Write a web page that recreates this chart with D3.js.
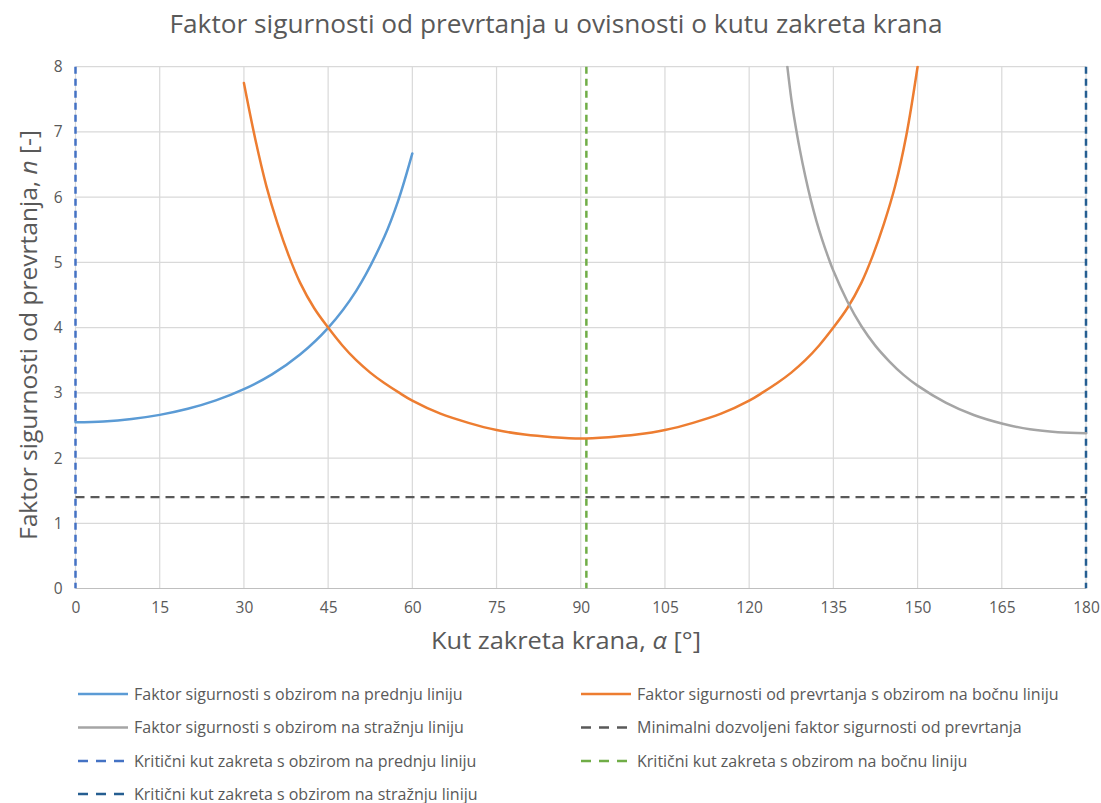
<!DOCTYPE html>
<html>
<head>
<meta charset="utf-8">
<script src="https://cdn.jsdelivr.net/npm/d3@7"></script>
<style>
  html, body { margin: 0; padding: 0; background: #ffffff; }
  svg { display: block; }
  text { font-family: "Open Sans", "Noto Sans", sans-serif; fill: #595959; }
</style>
</head>
<body>
<svg id="chart" width="1101" height="803"></svg>
<script>
// Safety factor against overturning vs. crane slewing angle
const titleText = "Faktor sigurnosti od prevrtanja u ovisnosti o kutu zakreta krana";
const xTicks = [0, 15, 30, 45, 60, 75, 90, 105, 120, 135, 150, 165, 180];
const yTicks = [0, 1, 2, 3, 4, 5, 6, 7, 8];

// front tipping line
const frontAngle = [0, 5, 10, 15, 20, 25, 30, 35, 40, 45, 50, 55, 57.5, 60];
const frontN     = [2.55, 2.562, 2.599, 2.662, 2.755, 2.884, 3.056, 3.283, 3.587, 3.996, 4.564, 5.389, 5.95, 6.67];

// side tipping line
const sideAngle = [30, 32, 34, 36, 38, 40, 42.5, 45, 47.5, 50, 52.5, 55, 57.5, 60, 65, 70, 75, 80, 85, 90,
                   95, 100, 105, 110, 115, 120, 122.5, 125, 127.5, 130, 132.5, 135, 137.5, 140, 142, 144, 146, 148, 150];
const sideN     = [7.75, 6.90, 6.17, 5.59, 5.10, 4.69, 4.30, 4.00, 3.73, 3.50, 3.31, 3.15, 3.01, 2.88, 2.68, 2.54, 2.43, 2.36, 2.32, 2.30,
                   2.32, 2.36, 2.43, 2.54, 2.68, 2.88, 3.01, 3.15, 3.31, 3.50, 3.73, 4.00, 4.30, 4.69, 5.10, 5.59, 6.17, 6.95, 8.00];

// rear tipping line
const rearAngle = [126.8, 127.5, 128, 129, 130, 131, 132, 133, 134, 135, 137.5, 140, 142.5, 145, 147.5, 150, 155, 160, 165, 170, 175, 180];
const rearN     = [8.00, 7.51, 7.23, 6.74, 6.32, 5.95, 5.63, 5.35, 5.10, 4.87, 4.40, 4.02, 3.72, 3.48, 3.275, 3.11, 2.85, 2.66, 2.53, 2.44, 2.395, 2.38];

// reference lines
const minN = 1.4;            // minimum allowed safety factor
const critFront = 0;         // critical angle, front line
const critSide = 91;         // critical angle, side line
const critRear = 180;        // critical angle, rear line

const legendLabels = [
  "Faktor sigurnosti s obzirom na prednju liniju",
  "Faktor sigurnosti od prevrtanja s obzirom na bočnu liniju",
  "Faktor sigurnosti s obzirom na stražnju liniju",
  "Minimalni dozvoljeni faktor sigurnosti od prevrtanja",
  "Kritični kut zakreta s obzirom na prednju liniju",
  "Kritični kut zakreta s obzirom na bočnu liniju",
  "Kritični kut zakreta s obzirom na stražnju liniju"
];

const colors = {
  front: "#5B9BD5", side: "#ED7D31", rear: "#A5A5A5", minLine: "#595959",
  critFront: "#4472C4", critSide: "#70AD47", critRear: "#255E91"
};

const svg = d3.select("#chart");
const plot = { left: 75.5, right: 1086, top: 66.7, bottom: 588.5 };

const x = d3.scaleLinear().domain([0, 180]).range([plot.left, plot.right]);
const y = d3.scaleLinear().domain([0, 8]).range([plot.bottom, plot.top]);

// gridlines
svg.append("g").selectAll("line").data(xTicks).join("line")
  .attr("x1", d => x(d)).attr("x2", d => x(d))
  .attr("y1", plot.top).attr("y2", plot.bottom)
  .attr("stroke", "#d9d9d9").attr("stroke-width", 1.2);
svg.append("g").selectAll("line").data(yTicks).join("line")
  .attr("x1", plot.left).attr("x2", plot.right)
  .attr("y1", d => y(d)).attr("y2", d => y(d))
  .attr("stroke", d => d === 0 ? "#bfbfbf" : "#d9d9d9").attr("stroke-width", 1.2);

// axes (labels only)
const xAxis = svg.append("g").attr("transform", `translate(0,${plot.bottom})`)
  .call(d3.axisBottom(x).tickValues(xTicks).tickSize(0).tickPadding(13));
xAxis.select(".domain").remove();
xAxis.selectAll("text").style("font-size", "15.5px").attr("fill", "#595959");

const yAxis = svg.append("g").attr("transform", `translate(${plot.left},0)`)
  .call(d3.axisLeft(y).tickValues(yTicks).tickSize(0).tickPadding(13));
yAxis.select(".domain").remove();
yAxis.selectAll("text").style("font-size", "15.5px").attr("fill", "#595959");

// clip to plot area
svg.append("clipPath").attr("id", "plotClip").append("rect")
  .attr("x", plot.left - 3).attr("y", plot.top - 1)
  .attr("width", plot.right - plot.left + 6).attr("height", plot.bottom - plot.top + 1);

const g = svg.append("g").attr("clip-path", "url(#plotClip)");

// reference lines
g.append("line")
  .attr("x1", x(0)).attr("x2", x(180)).attr("y1", y(minN)).attr("y2", y(minN))
  .attr("stroke", colors.minLine).attr("stroke-width", 2.2).attr("stroke-dasharray", "9,6");

[[critFront, colors.critFront], [critSide, colors.critSide], [critRear, colors.critRear]].forEach(([a, c]) => {
  g.append("line")
    .attr("x1", x(a)).attr("x2", x(a)).attr("y1", y(8)).attr("y2", y(0))
    .attr("stroke", c).attr("stroke-width", 2.5).attr("stroke-dasharray", "7,5");
});

// curves
const line = d3.line().x(d => x(d[0])).y(d => y(d[1])).curve(d3.curveCatmullRom.alpha(0.5));
const series = [
  [d3.zip(frontAngle, frontN), colors.front],
  [d3.zip(sideAngle, sideN), colors.side],
  [d3.zip(rearAngle, rearN), colors.rear]
];
series.forEach(([pts, c]) => {
  g.append("path").datum(pts).attr("d", line)
    .attr("fill", "none").attr("stroke", c).attr("stroke-width", 2.5)
    .attr("stroke-linejoin", "round").attr("stroke-linecap", "round");
});

// title
svg.append("text").attr("x", 556).attr("y", 33).attr("text-anchor", "middle")
  .style("font-size", "25px").attr("textLength", 773).attr("lengthAdjust", "spacingAndGlyphs")
  .text(titleText);

// axis titles
const xt = svg.append("text").attr("x", 566).attr("y", 649).attr("text-anchor", "middle")
  .style("font-size", "23px").attr("textLength", 270).attr("lengthAdjust", "spacingAndGlyphs");
xt.append("tspan").text("Kut zakreta krana, ");
xt.append("tspan").style("font-style", "italic").text("α");
xt.append("tspan").text(" [°]");

const yt = svg.append("text").attr("transform", "translate(37,335) rotate(-90)").attr("text-anchor", "middle")
  .style("font-size", "23px").attr("textLength", 410).attr("lengthAdjust", "spacingAndGlyphs");
yt.append("tspan").text("Faktor sigurnosti od prevrtanja, ");
yt.append("tspan").style("font-style", "italic").text("n");
yt.append("tspan").text(" [-]");

// legend
const legendItems = [
  { label: legendLabels[0], color: colors.front, dash: null, col: 0, row: 0 },
  { label: legendLabels[1], color: colors.side, dash: null, col: 1, row: 0 },
  { label: legendLabels[2], color: colors.rear, dash: null, col: 0, row: 1 },
  { label: legendLabels[3], color: colors.minLine, dash: "10,8", col: 1, row: 1 },
  { label: legendLabels[4], color: colors.critFront, dash: "10,8", col: 0, row: 2 },
  { label: legendLabels[5], color: colors.critSide, dash: "10,8", col: 1, row: 2 },
  { label: legendLabels[6], color: colors.critRear, dash: "10,8", col: 0, row: 3 }
];
const colX = [78, 581];
const rowY = [694, 727.5, 761, 794];
const lg = svg.append("g").selectAll("g").data(legendItems).join("g")
  .attr("transform", d => `translate(${colX[d.col]},${rowY[d.row]})`);
lg.append("line").attr("x1", 0).attr("x2", 50).attr("y1", 0).attr("y2", 0)
  .attr("stroke", d => d.color).attr("stroke-width", 2.5)
  .attr("stroke-dasharray", d => d.dash);
lg.append("text").attr("x", 56).attr("y", 5.5).style("font-size", "16px").text(d => d.label);
</script>
</body>
</html>
